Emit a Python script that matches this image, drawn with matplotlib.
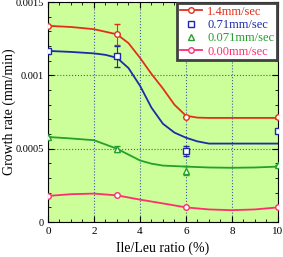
import matplotlib
matplotlib.use('Agg')
import matplotlib.pyplot as plt
from matplotlib.ticker import MultipleLocator

plt.rcParams['font.family'] = ['Liberation Serif', 'DejaVu Serif']

# measured points (x = Ile/Leu ratio %)
pt_x = [0, 3, 6, 10]
red_pts = [0.001338, 0.00128, 0.000718, 0.000718]
red_err = [0, 0.00007, 0, 0]
blue_pts = [0.001167, 0.00113, 0.000486, 0.00062]
blue_err = [0, 0.00007, 0.000035, 0]
green_pts = [0.00058, 0.0005, 0.00035, 0.00039]
green_err = [0, 0.00002, 0.00003, 0]
pink_pts = [0.000178, 0.000182, 0.0001, 0.0001]

# fitted curves
red_cx = [0, 1, 2, 3, 3.5, 4, 4.5, 5, 5.5, 6, 6.5, 7, 8, 10]
red_cy = [0.001338, 0.00133, 0.001315, 0.00128, 0.00122, 0.00112, 0.00101, 0.00091,
          0.0008, 0.000725, 0.000712, 0.00071, 0.00071, 0.00071]
blue_cx = [0, 1, 2, 2.5, 3, 3.5, 4, 4.5, 5, 5.5, 6, 6.5, 7, 8, 10]
blue_cy = [0.001167, 0.00116, 0.00115, 0.00114, 0.00112, 0.00105, 0.00093, 0.00078,
           0.00067, 0.00061, 0.000575, 0.00055, 0.000535, 0.000535, 0.000535]
green_cx = [0, 1, 2, 3, 3.5, 4, 4.5, 5, 6, 7, 8, 9, 10]
green_cy = [0.00058, 0.00057, 0.000558, 0.0005, 0.00046, 0.00042, 0.000398, 0.000385,
            0.000378, 0.000372, 0.00037, 0.000372, 0.000378]
pink_cx = [0, 1, 2, 3, 4, 5, 6, 7, 8, 9, 10]
pink_cy = [0.000178, 0.00019, 0.000194, 0.000182, 0.000153, 0.000127, 0.0001,
           0.000086, 0.000081, 0.000086, 0.0001]

c_red = '#e0301c'
c_blue = '#1c2ca8'
c_green = '#24a02c'
c_pink = '#ff2e6e'

fig = plt.figure(figsize=(2.83, 2.57), dpi=100)
ax = fig.add_axes([0.1696, 0.136, 0.8124, 0.856])
ax.set_facecolor('#ccff99')

ax.plot(red_cx, red_cy, color=c_red, lw=1.3)
ax.plot(blue_cx, blue_cy, color=c_blue, lw=1.3)
ax.plot(green_cx, green_cy, color=c_green, lw=1.3)
ax.plot(pink_cx, pink_cy, color=c_pink, lw=1.3)

ax.errorbar(pt_x, red_pts, yerr=red_err, fmt='o', ms=4, mfc='white', mec=c_red,
            ecolor=c_red, elinewidth=0.8, capsize=2, zorder=5)
ax.errorbar(pt_x, blue_pts, yerr=blue_err, fmt='s', ms=4, mfc='white', mec=c_blue,
            ecolor=c_blue, elinewidth=0.8, capsize=2, zorder=5)
ax.errorbar(pt_x, green_pts, yerr=green_err, fmt='^', ms=4, mfc='white', mec=c_green,
            ecolor=c_green, elinewidth=0.8, capsize=2, zorder=5)
ax.plot(pt_x, pink_pts, 'o', ms=4, mfc='white', mec=c_pink, zorder=5)

# legend handles
h1, = ax.plot([], [], '-o', color=c_red, ms=4, mfc='white', lw=1.3)
h2, = ax.plot([], [], 's', color=c_blue, ms=4, mfc='white')
h3, = ax.plot([], [], '^', color=c_green, ms=4, mfc='white')
h4, = ax.plot([], [], '-o', color=c_pink, ms=4, mfc='white', lw=1.3)
leg = ax.legend([h1, h2, h3, h4], ['1.4mm/sec', '0.71mm/sec', '0.071mm/sec', '0.00mm/sec'],
                loc='upper right', fontsize=9, frameon=True, fancybox=False,
                borderaxespad=0.1, handlelength=1.8, handletextpad=0.4,
                labelspacing=0.1, borderpad=0.2)
leg.get_frame().set_edgecolor('#404040')
leg.get_frame().set_linewidth(2)
leg.get_frame().set_facecolor('white')
leg.get_frame().set_alpha(1)
for t, c in zip(leg.get_texts(), [c_red, c_blue, c_green, c_pink]):
    t.set_color(c)

ax.set_xlim(0, 10)
ax.set_ylim(0, 0.0015)
ax.set_xticks([0, 2, 4, 6, 8, 10])
ax.set_yticks([0, 0.0005, 0.001, 0.0015])
ax.set_yticklabels(['0', '0.0005', '0.001', '0.0015'])
ax.xaxis.set_minor_locator(MultipleLocator(0.5))
ax.yaxis.set_minor_locator(MultipleLocator(0.0001))
ax.tick_params(which='both', direction='in', top=True, right=True, labelsize=8)
ax.tick_params(axis='y', labelsize=7.5, pad=3)
ax.tick_params(which='major', length=4)
ax.tick_params(which='minor', length=2)
ax.grid(True, which='major', color='#4060a0', linestyle=':', lw=0.8)

ax.set_xlabel('Ile/Leu ratio (%)', fontsize=10, labelpad=4)
ax.set_ylabel('Growth rate (mm/min)', fontsize=10)
ax.yaxis.set_label_coords(-0.14, 0.5)

fig.savefig('out.png', dpi=100)
